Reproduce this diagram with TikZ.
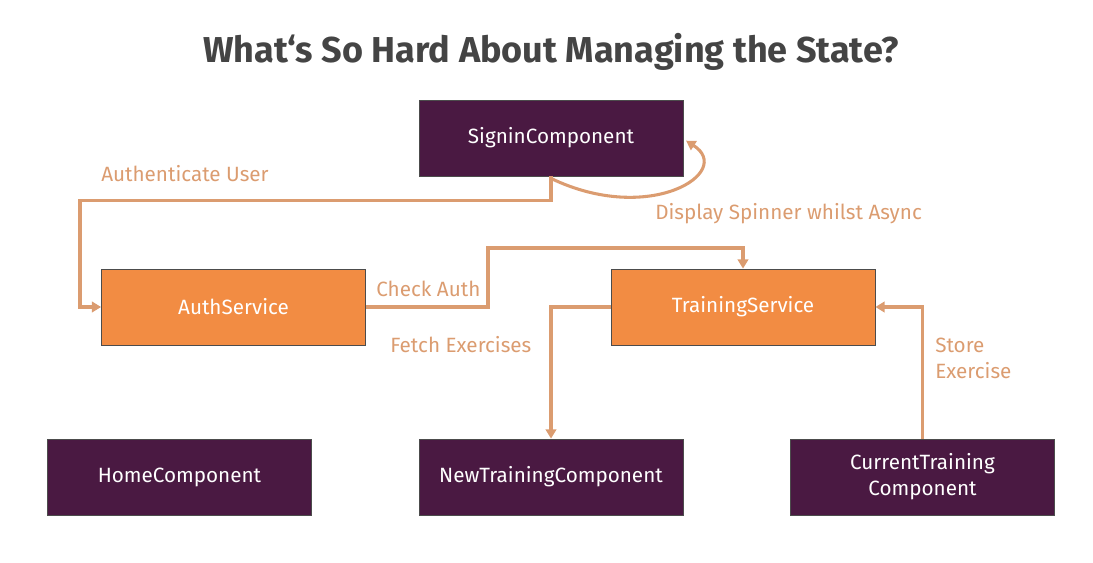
\documentclass[tikz,border=0pt]{standalone}
\usepackage{fontspec}
\setmainfont{Fira Sans}
\newfontfamily\titlefont{Fira Sans}
\usetikzlibrary{arrows.meta,positioning}
\definecolor{plum}{HTML}{4A1942}
\definecolor{tangerine}{HTML}{F28C43}
\definecolor{sand}{HTML}{DB9C70}
\definecolor{slate}{HTML}{444444}

\begin{document}
\begin{tikzpicture}[x=0.75pt,y=-0.75pt,
  comp/.style={draw=black!70,line width=0.6pt,fill=plum,text=white,minimum width=198pt,minimum height=57pt,inner sep=0pt,align=center,font=\fontsize{15.5}{19.5}\selectfont},
  serv/.style={comp,fill=tangerine},
  flow/.style={sand,line width=2.3pt,-{Triangle[length=7pt,width=8pt]}},
  lbl/.style={text=sand,font=\fontsize{15.5}{19.5}\selectfont,inner sep=0pt}]
\useasboundingbox (0,0) rectangle (1093,563);
\node[text=slate,font=\titlefont\bfseries\fontsize{27}{32}\selectfont] (title) at (551,52) {What‘s So Hard About Managing the State?};
% components and services
\node[comp] (signin) at (551,138) {SigninComponent};
\node[serv] (auth) at (233.5,307) {AuthService};
\node[serv] (training) at (743,307) {TrainingService};
\node[comp] (home) at (179.5,477) {HomeComponent};
\node[comp] (newtr) at (551,477) {NewTrainingComponent};
\node[comp] (curtr) at (922.5,477) {CurrentTraining\\Component};
% connectors
\draw[flow] (signin.south) -- ++(0,24) -| (80,307) -- (auth.west);
\draw[flow] ([yshift=-1.5pt]signin.south) .. controls (650,226) and (735,172) .. ([xshift=2pt,yshift=-2pt]signin.east);
\draw[flow] (auth.east) -- (488,307) |- (743,248) -- (training.north);
\draw[flow] (training.west) -| (newtr.north);
\draw[flow] (curtr.north) |- (training.east);
% labels
\node[lbl,anchor=west] (authlbl) at (101,174) {Authenticate User};
\node[lbl,anchor=west] (spinlbl) at (655,214) {Display Spinner whilst Async};
\node[lbl,anchor=west] (checklbl) at (376,289) {Check Auth};
\node[lbl,anchor=west] (fetchlbl) at (390,345) {Fetch Exercises};
\node[lbl,anchor=north west,align=left] (storelbl) at (935,338) {Store\\Exercise};
\end{tikzpicture}
\end{document}
